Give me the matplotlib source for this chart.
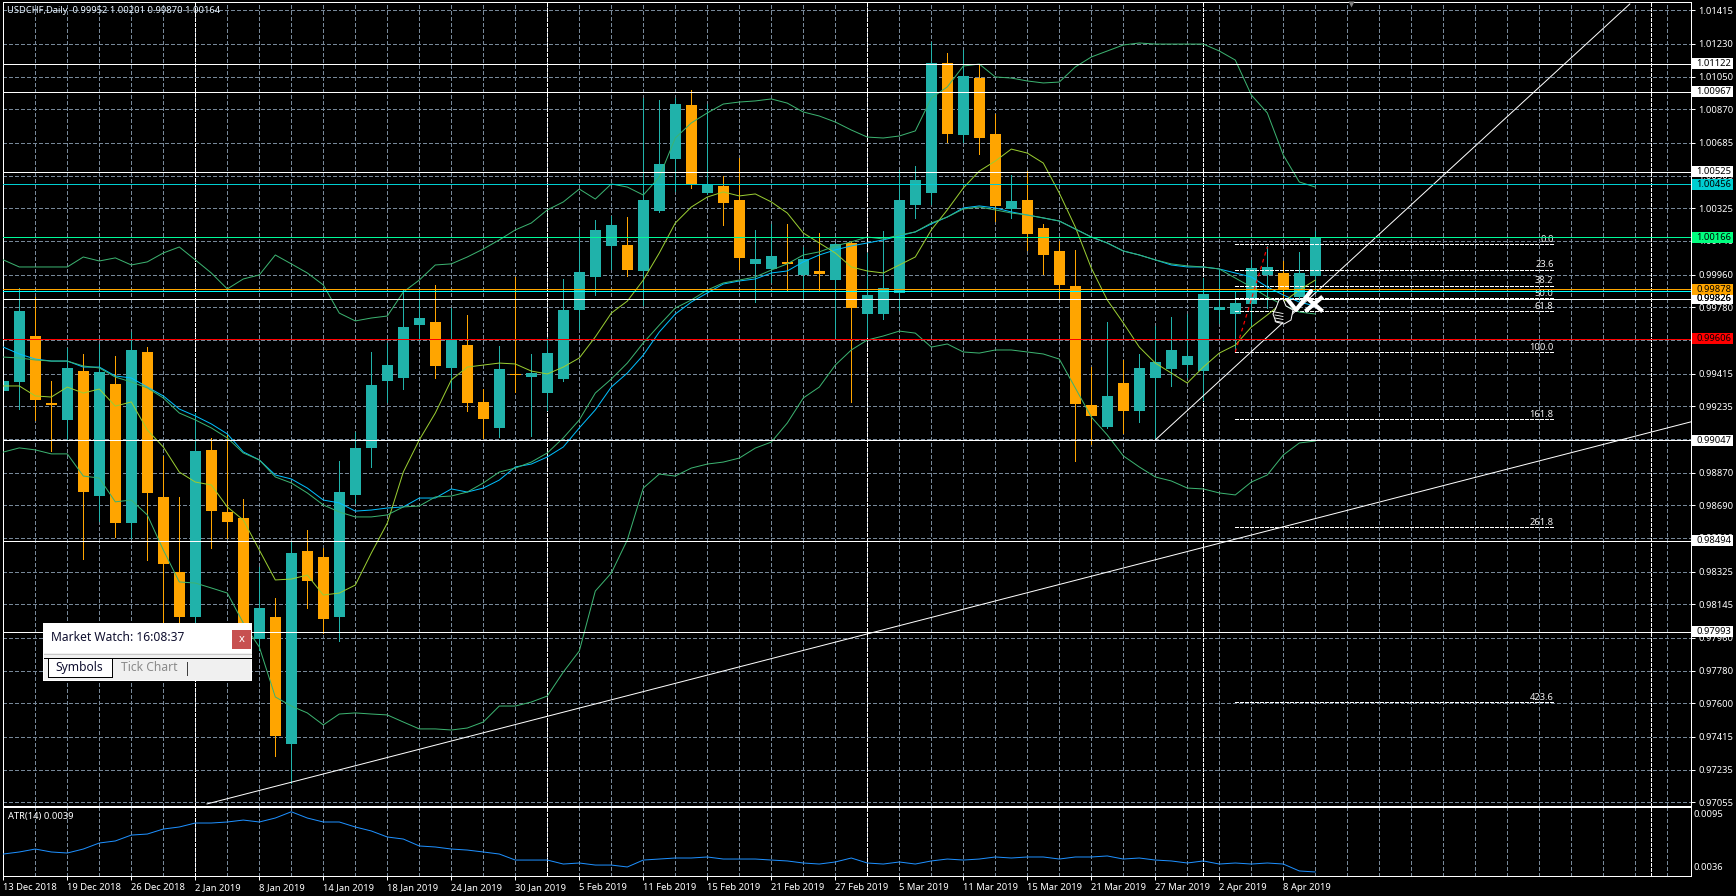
import numpy as np
import matplotlib
matplotlib.use("Agg")
import matplotlib.pyplot as plt
from matplotlib.patches import Rectangle, Polygon

# ---------- data ----------
opens = [.99319,.99369,.99622,.99253,.99160,.99429,.98741,.99358,.98592,.99534,.98736,.98323,.98075,.98995,.98653,.98620,.97954,.98075,.97376,.98438,
 .98405,.98075,.98747,.99006,.99374,.99391,.99682,.99699,.99446,.99573,.99259,.99116,.99413,.99396,.99308,.99385,.99765,.99947,1.00118,1.00123,
 .99980,1.00310,1.00596,1.00893,1.00410,1.00448,1.00371,1.00019,.99991,1.00030,.99958,.99980,.99930,1.00134,.99743,.99743,.99859,1.00343,1.00410,1.01125,
 1.00729,1.01042,1.00734,1.00321,1.00371,1.00217,1.00090,.99897,.99242,.99121,.99363,.99209,.99391,.99440,.99462,.99429,.99765,.99743,.99798,.99958,
 .99969,.99837,.99952]
highs = [.99534,.99886,.99837,.99374,.99556,.99523,.99578,.99512,.99644,.99561,.98962,.98736,.99198,.99061,.99077,.98725,.98350,.98180,.98493,.98554,
 .98455,.98934,.99094,.99534,.99584,.99875,.99875,.99903,.99776,.99738,.99330,.99567,.99947,.99523,.99611,.99936,1.00206,1.00261,1.00283,1.00277,
 1.00932,1.00921,1.00932,1.00976,1.00899,1.00503,1.00602,1.00206,1.00239,1.00239,1.00112,1.00190,1.00134,1.00145,1.00079,1.00200,1.00536,1.00558,1.01241,1.01180,
 1.01197,1.01114,1.00844,1.00508,1.00530,1.00239,1.00145,1.00096,.99451,.99699,.99490,.99523,.99677,.99727,.99743,.99941,.99985,.99870,1.00041,1.00118,
 1.00035,1.00085,1.00201]
lows = [.99099,.99220,.99160,.98989,.99050,.98394,.98603,.98515,.98510,.98389,.98042,.98048,.98042,.98455,.98510,.98026,.97894,.97310,.97161,.98125,
 .97987,.97943,.98703,.98901,.99259,.99330,.99600,.99391,.99336,.99209,.99061,.99066,.99314,.99072,.99215,.99374,.99660,.99848,.99991,.99952,
 .99793,1.00305,1.00421,1.00437,1.00404,1.00233,.99991,.99809,.99919,.99875,.99826,.99875,.99617,.99259,.99622,.99716,.99765,1.00272,1.00349,1.00690,
 1.00690,1.00624,1.00255,1.00272,1.00096,.99963,.99831,.98934,.99028,.99116,.99088,.99149,.99050,.99347,.99396,.99270,.99694,.99545,.99677,.99776,
 .99710,.99820,.99870]
closes = [.99374,.99759,.99270,.99242,.99446,.98764,.99424,.98592,.99545,.98758,.98367,.98075,.98989,.98658,.98598,.98042,.98125,.97420,.98427,.98273,
 .98064,.98764,.99006,.99352,.99462,.99671,.99721,.99457,.99606,.99253,.99165,.99440,.99407,.99418,.99528,.99765,.99975,1.00206,1.00233,.99985,
 1.00371,1.00569,1.00899,1.00459,1.00459,1.00354,1.00052,1.00046,1.00063,1.00019,1.00046,.99963,1.00129,.99776,.99848,.99886,1.00371,1.00481,1.01125,1.00734,
 1.01053,1.00712,1.00338,1.00365,1.00183,1.00068,.99903,.99248,.99182,.99292,.99209,.99446,.99479,.99545,.99512,.99853,.99782,.99804,.99996,1.00002,
 .99875,.99969,1.00164]
bb_upper = [1.00041,1.00002,1.00002,1.00002,1.00002,1.00057,1.00035,1.00052,1.00013,1.00030,1.00079,1.00112,1.00041,.99969,.99881,.99936,.99958,1.00068,1.00019,.99969,
 .99903,.99748,.99705,.99721,.99732,.99864,.99930,1.00013,1.00019,1.00057,1.00101,1.00151,1.00206,1.00244,1.00316,1.00360,1.00431,1.00376,1.00459,1.00442,
 1.00398,1.00497,1.00712,1.00795,1.00850,1.00899,1.00910,1.00916,1.00927,1.00904,1.00855,1.00833,1.00800,1.00756,1.00717,1.00712,1.00723,1.00751,1.00932,1.00993,
 1.01108,1.01119,1.01048,1.01042,1.01026,1.01015,1.01020,1.01103,1.01158,1.01191,1.01224,1.01235,1.01229,1.01229,1.01229,1.01229,1.01191,1.01141,1.00949,1.00850,
 1.00618,1.00470,1.00442]
bb_mid = [.99506,.99501,.99490,.99484,.99484,.99457,.99446,.99396,.99369,.99336,.99281,.99198,.99160,.99116,.99061,.98978,.98940,.98846,.98813,.98758,
 .98692,.98653,.98626,.98626,.98637,.98681,.98686,.98736,.98741,.98763,.98813,.98873,.98895,.98928,.98978,.99061,.99160,.99308,.99385,.99473,
 .99584,.99682,.99776,.99820,.99875,.99914,.99930,.99947,.99985,1.00019,1.00068,1.00085,1.00118,1.00140,1.00167,1.00156,1.00178,1.00195,1.00244,1.00277,
 1.00321,1.00332,1.00316,1.00299,1.00288,1.00272,1.00255,1.00211,1.00167,1.00134,1.00090,1.00068,1.00041,1.00019,1.00008,1.00002,.99991,.99941,.99892,.99837,
 .99793,.99754,.99743]
bb_lower = [.98983,.99006,.98995,.98973,.98973,.98851,.98840,.98709,.98719,.98637,.98444,.98268,.98262,.98235,.98207,.98042,.97910,.97635,.97585,.97547,
 .97481,.97541,.97547,.97541,.97536,.97497,.97459,.97459,.97453,.97464,.97497,.97585,.97585,.97607,.97640,.97772,.97888,.98218,.98317,.98499,
 .98785,.98862,.98851,.98895,.98917,.98928,.98950,.99005,.99038,.99143,.99281,.99341,.99462,.99545,.99600,.99622,.99649,.99638,.99561,.99578,
 .99534,.99528,.99545,.99545,.99534,.99523,.99495,.99336,.99176,.99077,.98962,.98901,.98846,.98824,.98785,.98780,.98758,.98747,.98818,.98857,
 .98967,.99033,.99044]
ma_slow = [.99561,.99523,.99495,.99484,.99484,.99451,.99451,.99402,.99391,.99341,.99292,.99220,.99182,.99138,.99083,.98984,.98940,.98857,.98835,.98785,
 .98719,.98703,.98658,.98664,.98675,.98681,.98730,.98730,.98780,.98763,.98785,.98829,.98901,.98917,.98956,.99011,.99116,.99215,.99341,.99418,
 .99517,.99644,.99743,.99809,.99859,.99908,.99925,.99936,.99969,.99980,1.00030,1.00068,1.00096,1.00118,1.00134,1.00151,1.00173,1.00195,1.00239,1.00277,
 1.00327,1.00338,1.00327,1.00305,1.00288,1.00272,1.00255,1.00211,1.00167,1.00134,1.00090,1.00068,1.00041,1.00013,1.00002,1.00002,.99991,.99969,.99947,.99892,
 .99848,.99809,.99787]
ma_fast = [.99347,.99347,.99292,.99286,.99341,.99308,.99330,.99236,.99259,.99105,.99011,.98873,.98818,.98802,.98681,.98609,.98444,.98279,.98284,.98306,
 .98196,.98207,.98251,.98427,.98592,.98873,.99050,.99198,.99380,.99451,.99462,.99473,.99468,.99429,.99413,.99451,.99501,.99617,.99748,.99814,
 .99930,1.00079,1.00244,1.00332,1.00387,1.00415,1.00393,1.00404,1.00360,1.00299,1.00189,1.00134,1.00079,1.00002,.99980,.99969,1.00013,1.00057,1.00206,1.00316,
 1.00437,1.00530,1.00585,1.00651,1.00629,1.00574,1.00409,1.00222,.99996,.99820,.99694,.99561,.99473,.99418,.99363,.99451,.99528,.99572,.99671,.99738,
 .99809,.99875,.99930]
atr = [.00549,.00567,.00593,.00567,.00558,.00593,.00646,.00664,.00716,.00725,.00769,.00787,.00822,.00822,.00831,.00848,.00831,.00866,.00921,.00866,
 .00831,.00831,.00787,.00752,.00699,.00681,.00620,.00611,.00593,.00584,.00567,.00549,.00496,.00496,.00496,.00461,.00470,.00452,.00452,.00435,
 .00496,.00505,.00514,.00514,.00523,.00505,.00505,.00505,.00496,.00488,.00470,.00461,.00479,.00514,.00470,.00461,.00479,.00461,.00488,.00505,
 .00496,.00505,.00523,.00514,.00523,.00523,.00505,.00523,.00523,.00532,.00505,.00514,.00496,.00488,.00470,.00488,.00461,.00470,.00461,.00470,
 .00461,.00400,.00391]

price_ticks = [1.01415,1.01230,1.01050,1.00870,1.00685,1.00505,1.00325,1.00146,.99960,.99780,.99600,.99415,.99235,.99055,.98870,.98690,.98510,.98325,.98145,.97960,.97780,.97600,.97415,.97235,.97055]
date_idx = list(range(0, 84, 4))
date_labels = ["13 Dec 2018","19 Dec 2018","26 Dec 2018","2 Jan 2019","8 Jan 2019","14 Jan 2019","18 Jan 2019","24 Jan 2019","30 Jan 2019","5 Feb 2019","11 Feb 2019","15 Feb 2019","21 Feb 2019","27 Feb 2019","5 Mar 2019","11 Mar 2019","15 Mar 2019","21 Mar 2019","27 Mar 2019","2 Apr 2019","8 Apr 2019"]
month_sep_idx = [12, 34, 54, 75, 103]

white_levels = [1.01122,1.00967,1.00525,.99826,.99047,.98494,.97993]
level_cyan = 1.00456
level_green = 1.00166
level_orange = .99878
level_aqua = .99868
level_red = .99606

trend1_x = [12.73, 105.46]; trend1_y = [.97046, .99149]
trend2_x = [72, 101.66];    trend2_y = [.99050, 1.01450]
red_x = [77, 79];           red_y = [.99534, 1.00112]

fib_ratios = ["0.0","23.6","38.2","50.0","61.8","100.0","161.8","261.8","423.6"]
fib_hi, fib_lo = 1.00127, .99532
fib_x = [77, 96.9]

# ---------- style ----------
TEAL, ORANGE = "#20B2AA", "#FFA500"
GRID = "#778899"
W, H = 1736, 896
FONT = "Noto Sans"
FS = 6.75
plt.rcParams["font.family"] = FONT
plt.rcParams["lines.antialiased"] = False
PX = 0.72

fig = plt.figure(figsize=(W/100, H/100), dpi=100, facecolor="black")
def axes_px(x0, y0, x1, y1):
    return fig.add_axes([x0/W, 1-y1/H, (x1-x0)/W, (y1-y0)/H], facecolor="black")

L, R = 2.5, 1690.5
ax = axes_px(L, 2.5, R, 805.5)
sub = axes_px(L, 807, R, 875.5)
xlim = ((L-3.3)/16, (R-3.3)/16)

idx = np.arange(len(opens))
o, h, l, c = map(np.array, (opens, highs, lows, closes))
bull = c >= o
colors = np.where(bull, TEAL, ORANGE)

ax.set_xlim(*xlim)
ax.set_ylim(.970374, 1.014579)
ax.vlines(idx, l, h, colors=colors, lw=PX, zorder=2, antialiased=False)
ax.bar(idx, np.abs(c-o).clip(min=.00007), bottom=np.minimum(o, c), width=11/16, color=colors,
       linewidth=0, antialiased=False, zorder=2.1)

SMOOTH = dict(lw=PX, antialiased=True)
ax.plot(idx, bb_upper, color="#3CB371", zorder=3, **SMOOTH)
ax.plot(idx, bb_lower, color="#3CB371", zorder=3, **SMOOTH)
ax.plot(idx, ma_slow, color="#00BFFF", zorder=3, **SMOOTH)
ax.plot(idx, bb_mid, color="#3CB371", zorder=3.1, **SMOOTH)
ax.plot(idx, ma_fast, color="#9ACD32", zorder=3, **SMOOTH)

ax.plot(trend1_x, trend1_y, color="white", zorder=4, **SMOOTH)
ax.plot(trend2_x, trend2_y, color="white", zorder=4, **SMOOTH)
ax.plot(red_x, red_y, color="red", lw=PX*1.2, ls=(0,(3,3)), antialiased=True, zorder=4)

for lab in fib_ratios:
    lv = fib_hi - (fib_hi-fib_lo)*float(lab)/100
    ax.plot(fib_x, [lv, lv], color="white", lw=PX, ls=(0,(3,2)), zorder=2.6)
    ax.text(fib_x[1], lv+.00003, lab, color="#F0F0F0", fontsize=FS, ha="right", va="bottom", zorder=2.7)

for s in month_sep_idx:
    ax.axvline(s, color="white", lw=PX, ls=(0,(3,2)), zorder=1.5)
    sub.axvline(s, color="white", lw=PX, ls=(0,(3,2)), zorder=1.5)

for lv in white_levels:
    ax.axhline(lv, color="white", lw=PX, zorder=5)
ax.axhline(level_cyan, color="#00CED1", lw=PX, zorder=5)
ax.axhline(level_green, color="#00FA9A", lw=PX, zorder=5)
ax.axhline(level_aqua, color="#00FFFF", lw=PX, zorder=5)
ax.axhline(level_orange, color=ORANGE, lw=PX, zorder=5.1)
ax.axhline(level_red, color="red", lw=PX, zorder=5)

# axis furniture
ax.set_yticks(price_ticks, [f"{v:.5f}" for v in price_ticks])
ax.set_xticks(np.arange(2, 106, 2))
ax.tick_params(axis="x", length=0, labelbottom=False)
ax.tick_params(axis="y", left=False, right=True, labelleft=False, labelright=True, length=3,
               width=PX, color="white", labelcolor="white", labelsize=FS, pad=2.6)
ax.set_axisbelow(True)
ax.grid(True, color=GRID, lw=PX, ls=(0,(4,2.4)))

sub.set_xlim(*xlim)
sub.set_ylim(.0036, .00963)
sub.plot(idx, atr, color="#1E90FF", zorder=3, **SMOOTH)
sub.set_xticks(date_idx, date_labels)
sub.set_xticks(np.arange(2, 106, 2), minor=True)
sub.tick_params(axis="x", which="major", length=3, width=PX, color="white", labelcolor="white", labelsize=FS, pad=2.5)
sub.tick_params(axis="x", which="minor", length=0)
for t in sub.get_xticklabels():
    t.set_ha("left")
sub.set_yticks([])
sub.set_axisbelow(True)
sub.grid(True, axis="x", which="both", color=GRID, lw=PX, ls=(0,(4,2.4)))
for a in (ax, sub):
    for s in a.spines.values():
        s.set_color("white"); s.set_linewidth(PX)
    a.set_zorder(1)

# overlay in pixel space: tags, window, chrome
ov = fig.add_axes([0, 0, 1, 1], facecolor="none")
ov.set_xlim(0, W); ov.set_ylim(H, 0); ov.axis("off"); ov.set_zorder(10)
def y_of(p):
    return 10.3 + (1.01415 - p)*18165
def tag(p, bg, fg="black"):
    y = y_of(p)
    ov.add_patch(Rectangle((1692, y-5.5), 41, 11, facecolor=bg, edgecolor="none", antialiased=False))
    ov.text(1696.5, y, f"{p:.5f}", color=fg, fontsize=FS, ha="left", va="center")
for lv in white_levels:
    tag(lv, "white")
tag(level_cyan, "#00CED1")
tag(level_green, "#00FF7F")
tag(.99826, "white")
tag(level_orange, ORANGE)
tag(level_red, "red")

ov.text(7, 10.5, "USDCHF,Daily  0.99952 1.00201 0.99870 1.00164", color="#E8F4FF", fontsize=FS, ha="left", va="center")
ov.text(7.5, 816.5, "ATR(14) 0.0039", color="white", fontsize=FS, ha="left", va="center")
ov.text(1694, 814.7, "0.0095", color="white", fontsize=FS, ha="left", va="center")
ov.text(1694, 868, "0.0036", color="white", fontsize=FS, ha="left", va="center")
ov.plot([1351], [4], marker="v", ms=5, color="#808080", ls="none", mec="none")

# market watch window
ov.add_patch(Rectangle((43, 622.7), 209, 58, facecolor="white", edgecolor="none", zorder=2))
ov.add_patch(Rectangle((44, 653), 207, 27, facecolor="#F0F0F0", edgecolor="none", zorder=2.1))
ov.plot([44, 251], [658, 658], color="black", lw=PX, zorder=2.2)
ov.plot([44, 251], [654, 654], color="#C8C8C8", lw=PX, zorder=2.2)
ov.add_patch(Rectangle((47.5, 658), 64, 19.5, facecolor="white", edgecolor="black", lw=PX, zorder=2.3, antialiased=False))
ov.add_patch(Rectangle((232, 630), 19, 19, facecolor="#C75050", edgecolor="none", zorder=2.4))
ov.text(241.5, 639, "x", color="white", fontsize=8, fontweight="bold", ha="center", va="center", zorder=3)
ov.text(51, 637.5, "Market Watch: 16:08:37", color="#101030", fontsize=8.7, ha="left", va="center", zorder=3)
ov.text(79.5, 667.5, "Symbols", color="#101030", fontsize=8.7, ha="center", va="center", zorder=3)
ov.text(149, 667.5, "Tick Chart", color="#8A8A8A", fontsize=8.7, ha="center", va="center", zorder=3)
ov.plot([186.5, 186.5], [662, 675], color="#404040", lw=PX, zorder=3)

# check / cross / hand sticker
ov.plot([1288, 1296, 1311], [300, 310, 291], color="white", lw=3.0, solid_capstyle="round", antialiased=True, zorder=4)
ov.plot([1307, 1321], [298, 310], color="white", lw=3.0, antialiased=True, zorder=4)
ov.plot([1321, 1307], [298, 310], color="white", lw=3.0, antialiased=True, zorder=4)
ov.add_patch(Polygon([(1279, 300), (1283, 299), (1286, 306), (1293, 310), (1291, 320), (1284, 324), (1276, 322), (1273, 314), (1276, 308)],
                     closed=True, facecolor="black", edgecolor="white", lw=0.7, antialiased=True, zorder=3))
for y0 in (312, 315, 318, 321):
    ov.plot([1275, 1283], [y0, y0+1.5], color="white", lw=0.6, antialiased=True, zorder=3.1)

fig.savefig("out.png", dpi=100, facecolor="black")
